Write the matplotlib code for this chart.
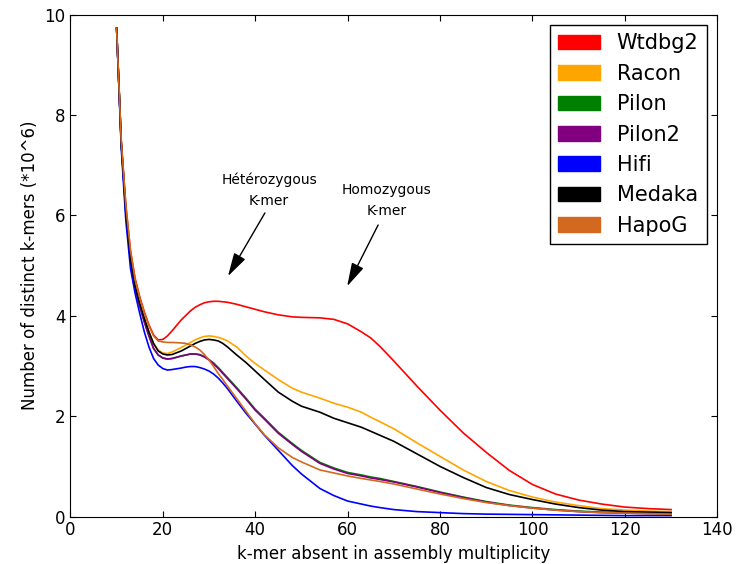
import matplotlib
matplotlib.use("Agg")
import matplotlib.pyplot as plt
from matplotlib.patches import Patch

# k-mer multiplicity (x) and distinct k-mer counts (*10^6) per assembly
mult = [10, 11, 12, 13, 14, 15, 16, 17, 18, 19, 20, 21, 22, 24, 25, 26, 27,
        28, 29, 30, 31, 32, 33, 34, 36, 38, 40, 42, 45, 48, 50, 54, 57, 60,
        63, 65, 67, 70, 75, 80, 85, 90, 95, 100, 105, 110, 115, 120, 125, 130]

wtdbg2 = [9.73, 7.5, 6.2, 5.3, 4.75, 4.38, 4.08, 3.82, 3.62, 3.52, 3.53,
          3.6, 3.7, 3.92, 4.01, 4.1, 4.17, 4.22, 4.26, 4.28, 4.29, 4.29,
          4.28, 4.27, 4.23, 4.18, 4.13, 4.08, 4.02, 3.98, 3.97, 3.96, 3.93,
          3.84, 3.68, 3.56, 3.39, 3.1, 2.6, 2.12, 1.67, 1.28, 0.92, 0.64,
          0.45, 0.33, 0.25, 0.19, 0.16, 0.14]
racon = [9.73, 7.45, 6.1, 5.15, 4.6, 4.25, 3.95, 3.68, 3.45, 3.32, 3.26,
         3.25, 3.28, 3.37, 3.42, 3.47, 3.52, 3.56, 3.59, 3.6, 3.59, 3.57,
         3.54, 3.5, 3.38, 3.2, 3.05, 2.92, 2.73, 2.56, 2.48, 2.36, 2.26,
         2.18, 2.08, 1.98, 1.89, 1.75, 1.47, 1.2, 0.93, 0.7, 0.52, 0.39,
         0.29, 0.22, 0.16, 0.13, 0.11, 0.1]
pilon = [9.73, 7.45, 6.05, 5.1, 4.55, 4.2, 3.88, 3.6, 3.35, 3.22, 3.16,
         3.14, 3.15, 3.2, 3.22, 3.24, 3.24, 3.23, 3.19, 3.13, 3.06, 2.97,
         2.87, 2.77, 2.57, 2.36, 2.14, 1.96, 1.68, 1.46, 1.32, 1.08, 0.97,
         0.88, 0.83, 0.79, 0.76, 0.7, 0.6, 0.49, 0.39, 0.3, 0.23, 0.18,
         0.14, 0.11, 0.09, 0.08, 0.07, 0.06]
pilon2 = [9.73, 7.45, 6.05, 5.1, 4.55, 4.2, 3.88, 3.6, 3.35, 3.22, 3.16,
          3.14, 3.15, 3.2, 3.22, 3.24, 3.24, 3.22, 3.18, 3.12, 3.04, 2.95,
          2.85, 2.75, 2.55, 2.34, 2.12, 1.94, 1.66, 1.44, 1.3, 1.06, 0.95,
          0.86, 0.81, 0.77, 0.74, 0.69, 0.59, 0.48, 0.38, 0.29, 0.22, 0.17,
          0.13, 0.1, 0.08, 0.07, 0.06, 0.06]
hifi = [9.73, 7.35, 5.9, 4.95, 4.45, 4.05, 3.68, 3.38, 3.15, 3.02, 2.95,
        2.92, 2.93, 2.96, 2.98, 2.99, 2.99, 2.97, 2.94, 2.9, 2.84, 2.76,
        2.66, 2.55, 2.3, 2.06, 1.84, 1.62, 1.32, 1.02, 0.85, 0.56, 0.42,
        0.31, 0.25, 0.21, 0.18, 0.14, 0.1, 0.08, 0.06, 0.05, 0.045, 0.04,
        0.035, 0.03, 0.025, 0.02, 0.02, 0.02]
medaka = [9.73, 7.45, 6.1, 5.15, 4.6, 4.25, 3.95, 3.68, 3.45, 3.3, 3.24,
          3.22, 3.23, 3.3, 3.35, 3.4, 3.45, 3.49, 3.52, 3.53, 3.52, 3.5,
          3.45, 3.38, 3.22, 3.07, 2.9, 2.73, 2.48, 2.3, 2.2, 2.08, 1.96,
          1.87, 1.78, 1.7, 1.62, 1.5, 1.25, 1.0, 0.78, 0.58, 0.44, 0.34,
          0.25, 0.18, 0.13, 0.1, 0.09, 0.08]
hapog = [9.73, 7.5, 6.2, 5.3, 4.72, 4.36, 4.06, 3.8, 3.6, 3.5, 3.48, 3.47,
         3.47, 3.46, 3.45, 3.42, 3.38, 3.32, 3.23, 3.12, 2.99, 2.85, 2.73,
         2.6, 2.35, 2.1, 1.85, 1.63, 1.37, 1.18, 1.09, 0.93, 0.87, 0.81,
         0.76, 0.73, 0.7, 0.65, 0.55, 0.45, 0.36, 0.28, 0.22, 0.17, 0.13,
         0.1, 0.08, 0.07, 0.06, 0.05]

names = ["Wtdbg2", "Racon", "Pilon", "Pilon2", "Hifi", "Medaka", "HapoG"]
colors = ["red", "orange", "green", "purple", "blue", "black", "chocolate"]
series = [wtdbg2, racon, pilon, pilon2, hifi, medaka, hapog]

fig = plt.figure(figsize=(7.41, 5.64), dpi=100)
ax = fig.add_axes([0.095, 0.084, 0.873, 0.89])

for vals, col in zip(series, colors):
    ax.plot(mult, vals, color=col, lw=1.2)

ax.set_xlim(0, 140)
ax.set_ylim(0, 10)
ax.set_xticks(range(0, 141, 20))
ax.set_yticks(range(0, 11, 2))
ax.tick_params(direction="in", top=True, right=True, length=4,
               labelsize=12)
ax.set_xlabel("k-mer absent in assembly multiplicity", fontsize=12)
ax.set_ylabel("Number of distinct k-mers (*10^6)", fontsize=12)

# text labels and their arrows
ax.text(43, 6.5, "Hétérozygous\nK-mer", ha="center", va="center",
        fontsize=10, linespacing=1.6)
ax.text(68.5, 6.3, "Homozygous\nK-mer", ha="center", va="center",
        fontsize=10, linespacing=1.6)
arrow = dict(arrowstyle="-|>,head_length=0.8,head_width=0.22",
             color="black", lw=1.0, mutation_scale=18,
             shrinkA=0, shrinkB=0)
ax.annotate("", xy=(34.1, 4.79), xytext=(42.1, 6.05), arrowprops=arrow)
ax.annotate("", xy=(59.9, 4.59), xytext=(66.6, 5.81), arrowprops=arrow)

handles = [Patch(facecolor=c, edgecolor=c) for c in colors]
leg = ax.legend(handles, names, loc="upper right", fontsize=15,
                fancybox=False, framealpha=1, edgecolor="black",
                labelspacing=0.5, handlelength=2.0, handleheight=0.7,
                borderaxespad=0.5)
leg.get_frame().set_linewidth(1.0)

plt.savefig("out.png", dpi=100)
